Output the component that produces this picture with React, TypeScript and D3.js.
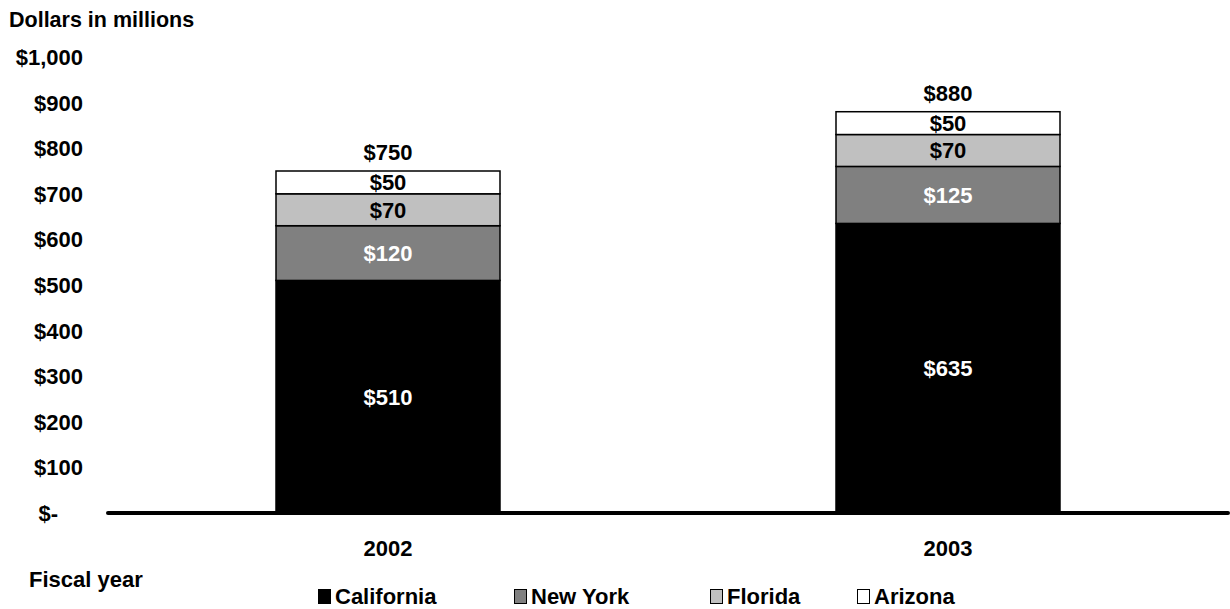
import { useEffect, useRef } from 'react';
import * as d3 from 'd3';

const WIDTH = 1230;
const HEIGHT = 609;
const FONT = 'Liberation Sans, Arial, Helvetica, sans-serif';

const years = ['2002', '2003'];
const states = ['California', 'New York', 'Florida', 'Arizona'];
const stateColors = ['#000000', '#808080', '#c0c0c0', '#ffffff'];
const labelColors = ['#ffffff', '#ffffff', '#000000', '#000000'];
const california = [510, 635];
const newYork = [120, 125];
const florida = [70, 70];
const arizona = [50, 50];
const totals = [750, 880];
const yTicks = [0, 100, 200, 300, 400, 500, 600, 700, 800, 900, 1000];

const fmt = (v: number) => (v === 0 ? '$-' : '$' + d3.format(',')(v));

function draw(svgEl: SVGSVGElement) {
  const svg = d3.select(svgEl);
  svg.selectAll('*').remove();

  const x = d3.scaleBand<string>().domain(years).range([108, 1228]);
  const y = d3.scaleLinear().domain([0, 1000]).range([513, 57]);
  const barW = x.bandwidth() * 0.4;

  // y tick labels, no axis line in the original
  svg
    .append('g')
    .selectAll('text')
    .data(yTicks)
    .join('text')
    .attr('x', (d) => (d === 0 ? 58 : 83))
    .attr('y', (d) => y(d))
    .attr('dy', '0.36em')
    .attr('text-anchor', 'end')
    .attr('font-family', FONT)
    .attr('font-weight', 'bold')
    .attr('font-size', 22)
    .text(fmt);

  svg
    .append('text')
    .attr('x', 9)
    .attr('y', 27)
    .attr('font-family', FONT)
    .attr('font-weight', 'bold')
    .attr('font-size', 21.5)
    .text('Dollars in millions');

  const rows = years.map((yr, i) => ({
    year: yr,
    vals: [california[i], newYork[i], florida[i], arizona[i]],
    total: totals[i],
  }));

  const series = d3
    .stack<{ year: string; vals: number[] }, number>()
    .keys([0, 1, 2, 3])
    .value((d, k) => d.vals[k])(rows);

  const g = svg.append('g');
  series.forEach((s, si) => {
    const grp = g.append('g');
    grp
      .selectAll('rect')
      .data(s)
      .join('rect')
      .attr('x', (d) => x(d.data.year)! + (x.bandwidth() - barW) / 2)
      .attr('y', (d) => y(d[1]))
      .attr('width', barW)
      .attr('height', (d) => y(d[0]) - y(d[1]))
      .attr('fill', stateColors[si])
      .attr('stroke', '#000')
      .attr('stroke-width', 1.5);
    grp
      .selectAll('text')
      .data(s)
      .join('text')
      .attr('x', (d) => x(d.data.year)! + x.bandwidth() / 2)
      .attr('y', (d) => (y(d[0]) + y(d[1])) / 2)
      .attr('dy', '0.36em')
      .attr('text-anchor', 'middle')
      .attr('font-family', FONT)
      .attr('font-weight', 'bold')
      .attr('font-size', 22)
      .attr('fill', labelColors[si])
      .text((d) => fmt(d[1] - d[0]));
  });

  // totals above each bar
  svg
    .append('g')
    .selectAll('text')
    .data(rows)
    .join('text')
    .attr('x', (d) => x(d.year)! + x.bandwidth() / 2)
    .attr('y', (d) => y(d.total) - 11)
    .attr('text-anchor', 'middle')
    .attr('font-family', FONT)
    .attr('font-weight', 'bold')
    .attr('font-size', 22)
    .text((d) => fmt(d.total));

  // baseline
  svg
    .append('line')
    .attr('x1', 108)
    .attr('x2', 1228)
    .attr('y1', y(0))
    .attr('y2', y(0))
    .attr('stroke', '#000')
    .attr('stroke-width', 4)
    .attr('stroke-linecap', 'round');

  svg
    .append('g')
    .selectAll('text')
    .data(years)
    .join('text')
    .attr('x', (d) => x(d)! + x.bandwidth() / 2)
    .attr('y', 556)
    .attr('text-anchor', 'middle')
    .attr('font-family', FONT)
    .attr('font-weight', 'bold')
    .attr('font-size', 22)
    .text((d) => d);

  svg
    .append('text')
    .attr('x', 29)
    .attr('y', 587)
    .attr('font-family', FONT)
    .attr('font-weight', 'bold')
    .attr('font-size', 22)
    .text('Fiscal year');

  // legend
  const legendX = [318, 514, 710, 857];
  const leg = svg
    .append('g')
    .selectAll('g')
    .data(states)
    .join('g')
    .attr('transform', (_, i) => `translate(${legendX[i]},604)`);
  leg
    .append('rect')
    .attr('x', 0.5)
    .attr('y', -14.5)
    .attr('width', 12)
    .attr('height', 14)
    .attr('fill', (_, i) => stateColors[i])
    .attr('stroke', '#000')
    .attr('stroke-width', 1);
  leg
    .append('text')
    .attr('x', 17)
    .attr('y', 0)
    .attr('font-family', FONT)
    .attr('font-weight', 'bold')
    .attr('font-size', 22)
    .text((d) => d);
}

export default function App() {
  const svgRef = useRef<SVGSVGElement>(null);

  useEffect(() => {
    if (!svgRef.current) return;
    draw(svgRef.current);
  }, []);

  return (
    <svg
      ref={svgRef}
      width={WIDTH}
      height={HEIGHT}
      style={{ position: 'absolute', left: 0, top: 0, background: '#fff', display: 'block' }}
    />
  );
}
